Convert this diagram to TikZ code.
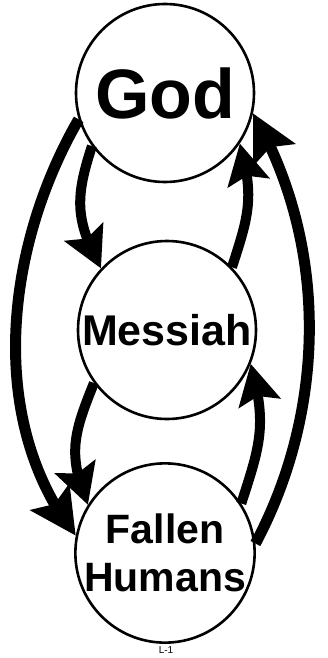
\documentclass[tikz,border=0pt]{standalone}
\usepackage{fontspec}
\setmainfont{Liberation Sans}
\usetikzlibrary{arrows.meta,bending}
\begin{document}
\begin{tikzpicture}[x=1pt,y=-1pt,
  bubble/.style={draw=black, line width=2.6pt, circle, fill=white, minimum size=178pt, inner sep=0pt, align=center},
  outerarc/.style={line width=11pt, -{Stealth[length=46pt,width=46pt,inset=8pt,flex]}},
  innerarc/.style={line width=10pt, -{Stealth[length=40pt,width=42pt,inset=7pt,flex]}}
]
\useasboundingbox (0,0) rectangle (327,658);
\fill[white] (0,0) rectangle (327,658);
\node[bubble, font=\bfseries\fontsize{70}{72}\selectfont] (god) at (165,93) {God};
\node[bubble, font=\bfseries\fontsize{43}{45}\selectfont] (mes) at (167,330) {Messiah};
\node[bubble, font=\bfseries\fontsize{41}{50}\selectfont] (fal) at (165,553) {Fallen\\[-2pt]Humans};
\node[font=\fontsize{10}{11}\selectfont] (lab) at (166,650) {L-1};
% inner arcs
\draw[innerarc] (god.216) to[out=252,in=118,looseness=1.15] (mes.137);
\draw[innerarc] (mes.44) to[out=72,in=285,looseness=1.15] (god.326);
\draw[innerarc] (mes.216) to[out=248,in=112,looseness=1.15] (fal.148);
\draw[innerarc] (fal.33) to[out=72,in=285,looseness=1.15] (mes.338);
% outer arcs
\draw[outerarc] (god.197) to[out=240,in=128,looseness=0.9] (fal.169);
\draw[outerarc] (fal.6) to[out=62,in=300,looseness=0.9] (god.347);
\end{tikzpicture}
\end{document}
